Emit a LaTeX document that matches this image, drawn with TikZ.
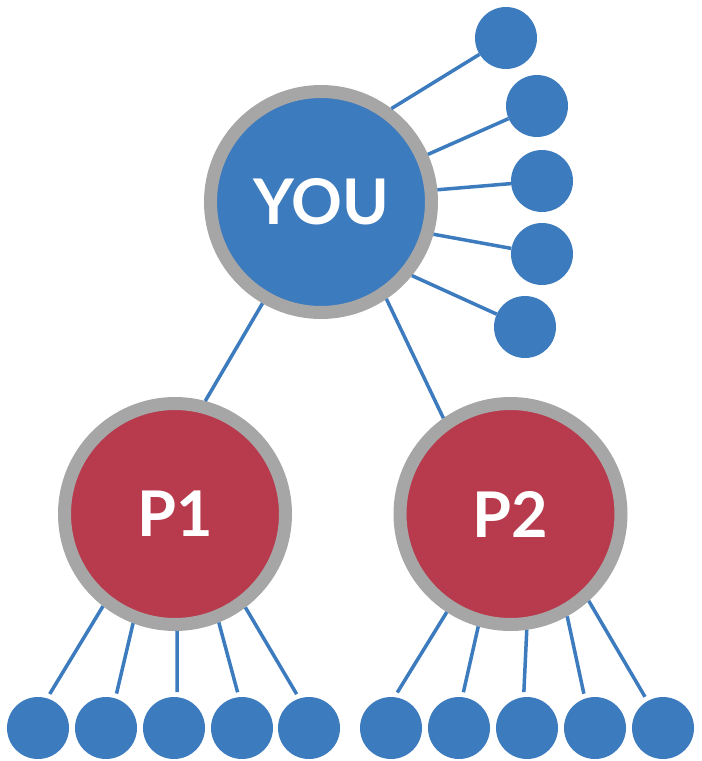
\documentclass[tikz,border=0pt]{standalone}
\usepackage{fontspec}
\setmainfont{Lato}
\newfontfamily\latobold{Lato Black}
\definecolor{dotblue}{RGB}{60,123,189}
\definecolor{parentred}{RGB}{183,59,77}
\definecolor{ringgray}{RGB}{166,166,166}
\begin{document}
\begin{tikzpicture}[x=1pt,y=-1pt,
  bignode/.style={circle,draw=ringgray,line width=13pt,minimum size=221pt,inner sep=0pt,
     text=white,font=\fontsize{63}{63}\selectfont\bfseries},
  youfill/.style={fill=dotblue},
  parfill/.style={fill=parentred},
  smallnode/.style={circle,fill=dotblue,minimum size=62pt,inner sep=0pt},
  gapnode/.style={smallnode,outer sep=5pt},
  link/.style={draw=dotblue,line width=3.5pt}]
\useasboundingbox (0,0) rectangle (702,761);
% nodes
\node[bignode,youfill] (you) at (321,202) {YOU};
\node[bignode,parfill] (p1) at (175,514) {P1};
\node[bignode,parfill] (p2) at (510.5,514) {P2};
\node[smallnode] (r1) at (506,38) {};
\node[smallnode] (r2) at (537,106) {};
\node[smallnode] (r3) at (542,181) {};
\node[smallnode] (r4) at (542,254) {};
\node[smallnode] (r5) at (525,327) {};
\node[gapnode] (a1) at (38,728) {};
\node[gapnode] (a2) at (106,728) {};
\node[gapnode] (a3) at (174,728) {};
\node[gapnode] (a4) at (242,728) {};
\node[gapnode] (a5) at (309,728) {};
\node[gapnode] (b1) at (391,728) {};
\node[gapnode] (b2) at (459,728) {};
\node[gapnode] (b3) at (527,728) {};
\node[gapnode] (b4) at (595,728) {};
\node[gapnode] (b5) at (663,728) {};
% connectors
\path[link] (you.53.4) -- (r1);
\path[link] (you.24.6) -- (r2);
\path[link] (you.6.1) -- (r3);
\path[link] (you.-16.8) -- (r4);
\path[link] (you.-39.3) -- (r5);
\path[link] (you.240.9) -- (p1.75);
\path[link] (you.-56.7) -- (p2.125);
\path[link] (p1.232.2) -- (a1.71);
\path[link] (p1.249.3) -- (a2.73);
\path[link] (p1.271.5) -- (a3.85);
\path[link] (p1.292.9) -- (a4.97);
\path[link] (p1.307.1) -- (a5.110);
\path[link] (p2.237.1) -- (b1.80);
\path[link] (p2.254.9) -- (b2.83);
\path[link] (p2.278.1) -- (b3.95);
\path[link] (p2.299.2) -- (b4.108);
\path[link] (p2.312.1) -- (b5.120);
\end{tikzpicture}
\end{document}
